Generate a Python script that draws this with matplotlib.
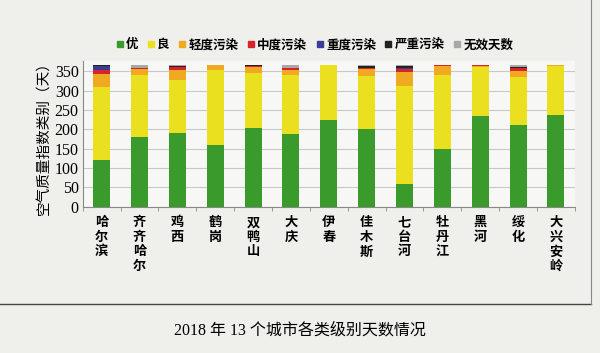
import matplotlib.pyplot as plt
import numpy as np
from matplotlib.lines import Line2D

plt.rcParams['font.family'] = ['Noto Sans CJK SC', 'DejaVu Sans']

cities = ["哈尔滨", "齐齐哈尔", "鸡西", "鹤岗", "双鸭山", "大庆", "伊春",
          "佳木斯", "七台河", "牡丹江", "黑河", "绥化", "大兴安岭"]
levels = ["优", "良", "轻度污染", "中度污染", "重度污染", "严重污染", "无效天数"]

excellent = [122, 180, 190, 160, 204, 188, 224, 202, 60, 150, 233, 212, 238]
good = [188, 159, 137, 192, 141, 153, 141, 135, 252, 190, 127, 122, 124]
light = [33, 17, 27, 13, 15, 13, 0, 18, 36, 22, 4, 16, 3]
moderate = [11, 2, 6, 0, 3, 4, 0, 4, 8, 3, 1, 7, 0]
heavy = [8, 0, 1, 0, 0, 0, 0, 0, 1, 0, 0, 0, 0]
severe = [3, 0, 2, 0, 2, 1, 0, 4, 6, 0, 0, 3, 0]
invalid = [0, 7, 2, 0, 0, 6, 0, 2, 2, 0, 0, 5, 0]

series = [excellent, good, light, moderate, heavy, severe, invalid]
colors = ["#3a9a2c", "#ebe020", "#f0aa22", "#d8232a", "#3c3c94", "#222222", "#a8a8a8"]

fig = plt.figure(figsize=(6, 3.53), dpi=100, facecolor="#efefec")
ax = fig.add_axes([0.138, 0.414, 0.82, 0.412])
ax.set_facecolor("#f7f7f5")

x = np.arange(len(cities))
bottom = np.zeros(len(cities))
for vals, c in zip(series, colors):
    ax.bar(x, vals, width=0.45, bottom=bottom, color=c, zorder=3)
    bottom += np.array(vals)

ax.set_xlim(-0.5, len(cities) - 0.5)
ax.set_ylim(0, 375)
ax.set_yticks(range(0, 351, 50))
ax.set_yticklabels([str(v) for v in range(0, 351, 50)],
                   family=["Liberation Serif", "DejaVu Serif"], fontsize=11.5)
ax.yaxis.grid(True, color="#c8c8c8", lw=0.8, zorder=0)
ax.tick_params(axis="y", length=0, pad=3)
ax.set_xticks(x)
ax.set_xticklabels(["\n".join(c) for c in cities], fontsize=9.5,
                   linespacing=1.05, va="top", fontweight="bold")
ax.set_xticks(np.arange(-0.5, len(cities), 1), minor=True)
ax.tick_params(axis="x", which="major", length=0, pad=6)
ax.tick_params(axis="x", which="minor", length=3, color="#888888")
for s in ["top", "right"]:
    ax.spines[s].set_visible(False)
ax.spines["left"].set_color("#888888")
ax.spines["bottom"].set_color("#888888")
ax.set_ylabel("空气质量指数类别（天）", fontsize=10.5, labelpad=2)

handles = [Line2D([], [], marker="s", ls="", color=c, markersize=4) for c in colors]
fig.legend(handles, levels, loc="center", bbox_to_anchor=(0.525, 0.873), ncol=7,
           frameon=False, handlelength=0.5, handletextpad=0.25, columnspacing=0.75,
           prop={"weight": "bold", "size": 9})

fig.add_artist(Line2D([0, 0.985], [0.138, 0.138], color="#444444", lw=1.0))
fig.add_artist(Line2D([0.985, 0.985], [0.138, 1.0], color="#888888", lw=0.8))
fig.text(0.5, 0.065, "2018 年 13 个城市各类级别天数情况", ha="center", va="center",
         fontsize=11.5, family=["Liberation Serif", "Noto Sans CJK SC"])

fig.savefig("out.png", dpi=100, facecolor=fig.get_facecolor())
